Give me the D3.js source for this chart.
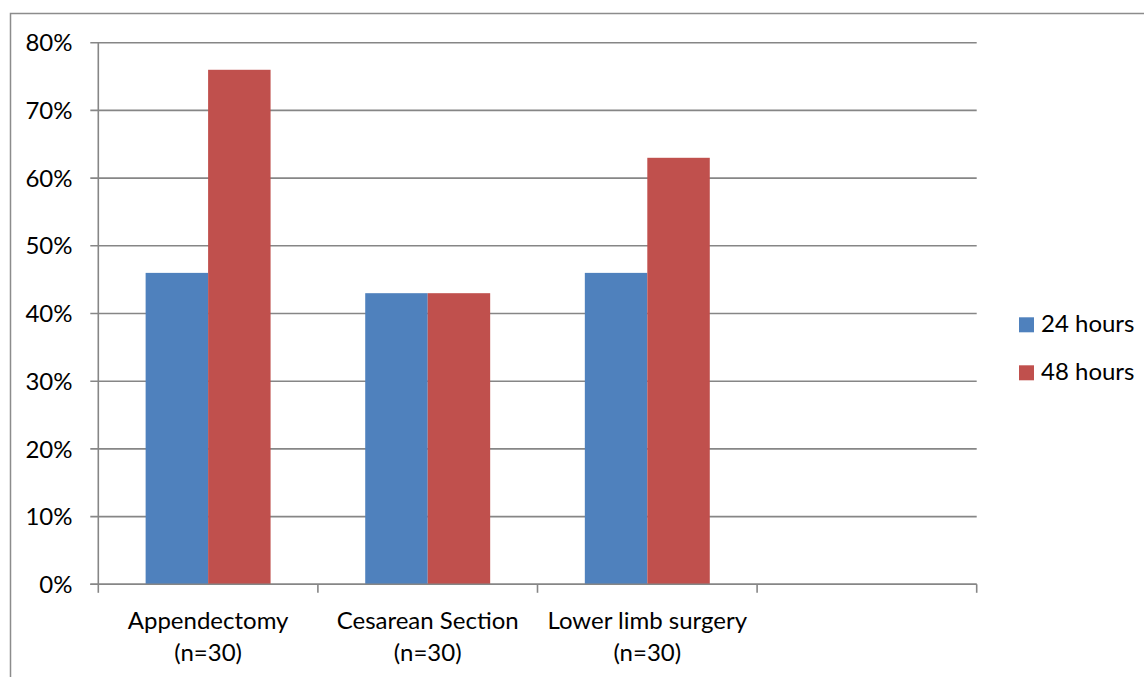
<!DOCTYPE html>
<html><head><meta charset="utf-8">
<script src="https://cdn.jsdelivr.net/npm/d3@7"></script>
<style>
html,body{margin:0;padding:0;background:#fff;}
svg{display:block;font-family:Lato,"Open Sans",sans-serif;}
</style></head>
<body>
<svg id="chart" width="1144" height="677"></svg>
<script>
const categories = ["Appendectomy|(n=30)", "Cesarean Section|(n=30)", "Lower limb surgery|(n=30)", ""];
const seriesNames = ["24 hours", "48 hours"];
const hours24 = [46, 43, 46, null];
const hours48 = [76, 43, 63, null];
const yTicks = [0, 10, 20, 30, 40, 50, 60, 70, 80];
const colors = ["#4F81BD", "#C0504D"];

(function() {
const svg = d3.select("#chart");
const pLeft = 98.3, pRight = 976.7, pTop = 42.7, pBottom = 584.3;
const grid = "#868686";
const fontSize = 24;

// outer border
svg.append("rect").attr("x", 10.5).attr("y", 13.5).attr("width", 1200).attr("height", 800)
  .attr("fill", "none").attr("stroke", "#8c8c8c").attr("stroke-width", 1.5);

const x0 = d3.scaleBand().domain(d3.range(categories.length)).range([pLeft, pRight]).paddingInner(0).paddingOuter(0);
const bw = x0.bandwidth();
const gap = bw * 0.2155;
const x1 = d3.scaleBand().domain(seriesNames).range([gap, bw - gap]).padding(0);
const y = d3.scaleLinear().domain([0, 80]).range([pBottom, pTop]);

// gridlines + y ticks
const gy = svg.append("g");
gy.selectAll("line").data(yTicks).join("line")
  .attr("x1", pLeft - 8).attr("x2", pRight)
  .attr("y1", d => y(d)).attr("y2", d => y(d))
  .attr("stroke", grid).attr("stroke-width", 1.6);
gy.selectAll("text").data(yTicks).join("text")
  .attr("x", 72.5).attr("y", d => y(d)).attr("dy", "0.36em")
  .attr("text-anchor", "end").attr("font-size", fontSize).attr("fill", "#000")
  .text(d => d + "%");

// y axis line
svg.append("line").attr("x1", pLeft).attr("x2", pLeft).attr("y1", pTop).attr("y2", pBottom)
  .attr("stroke", grid).attr("stroke-width", 1.6);

// bars
const data = categories.map((c, i) => ({i, vals: [hours24[i], hours48[i]]}));
const groups = svg.append("g").selectAll("g").data(data).join("g")
  .attr("transform", d => `translate(${x0(d.i)},0)`);
groups.selectAll("rect").data(d => d.vals.map((v, k) => ({v, k})).filter(e => e.v != null)).join("rect")
  .attr("x", e => x1(seriesNames[e.k]))
  .attr("width", x1.bandwidth())
  .attr("y", e => y(e.v))
  .attr("height", e => y(0) - y(e.v))
  .attr("fill", e => colors[e.k]);

// x axis ticks
const xt = d3.range(categories.length + 1).map(i => pLeft + i * bw);
svg.append("g").selectAll("line").data(xt).join("line")
  .attr("x1", d => d).attr("x2", d => d).attr("y1", pBottom).attr("y2", pBottom + 8.5)
  .attr("stroke", grid).attr("stroke-width", 1.6);
svg.append("line").attr("x1", pLeft - 8).attr("x2", pRight).attr("y1", pBottom).attr("y2", pBottom)
  .attr("stroke", grid).attr("stroke-width", 1.6);

// category labels
const cl = svg.append("g").selectAll("text").data(data.filter(d => categories[d.i] !== "")).join("text")
  .attr("text-anchor", "middle").attr("font-size", fontSize).attr("fill", "#000");
cl.each(function(d) {
  const lines = categories[d.i].split("|");
  const t = d3.select(this);
  lines.forEach((ln, j) => {
    t.append("tspan").attr("x", x0(d.i) + bw / 2).attr("y", 628.5 + j * 32).text(ln);
  });
});

// legend
const lg = svg.append("g").selectAll("g").data(seriesNames).join("g")
  .attr("transform", (d, i) => `translate(1019,${317.3 + i * 48})`);
lg.append("rect").attr("width", 15).attr("height", 15).attr("fill", (d, i) => colors[i]);
lg.append("text").attr("x", 22).attr("y", 15).attr("font-size", fontSize).attr("fill", "#000").text(d => d);
})();
</script>
</body></html>
